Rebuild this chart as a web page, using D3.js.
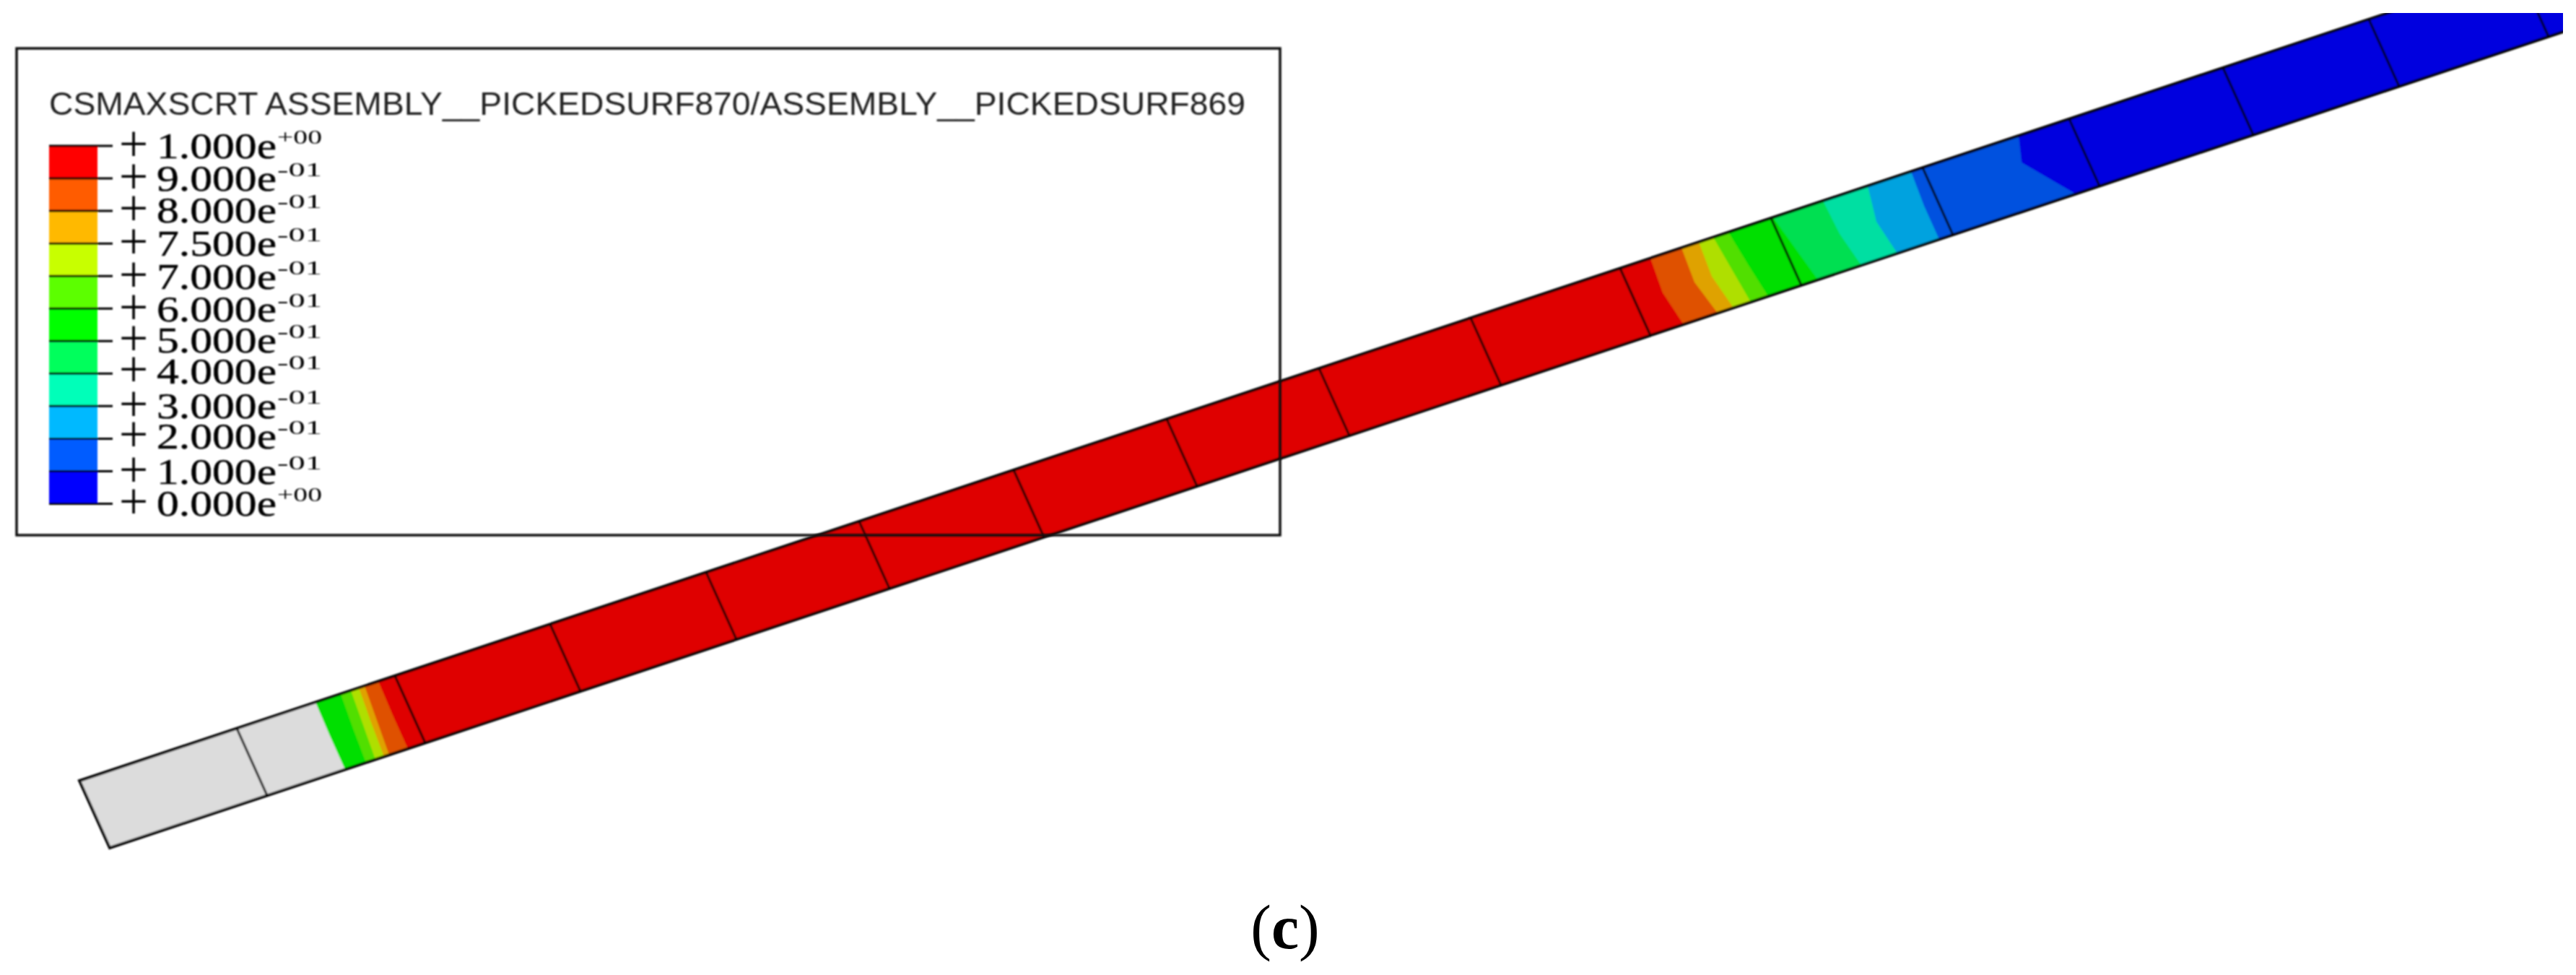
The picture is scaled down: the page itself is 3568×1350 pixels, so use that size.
<!DOCTYPE html>
<html>
<head>
<meta charset="utf-8">
<script src="https://cdn.jsdelivr.net/npm/d3@7"></script>
<style>
  html, body { margin: 0; padding: 0; background: #fff; }
  svg { display: block; }
</style>
</head>
<body>
<svg id="chart" width="3568" height="1350"></svg>
<script>
const TITLE = "CSMAXSCRT ASSEMBLY__PICKEDSURF870/ASSEMBLY__PICKEDSURF869";
const CAPTION = "c";

// legend, top to bottom
const legendMantissa = ["1.000", "9.000", "8.000", "7.500", "7.000", "6.000", "5.000", "4.000", "3.000", "2.000", "1.000", "0.000"];
const legendExponent = ["+00", "-01", "-01", "-01", "-01", "-01", "-01", "-01", "-01", "-01", "-01", "+00"];
const legendLevels = [1, 0.9, 0.8, 0.75, 0.7, 0.6, 0.5, 0.4, 0.3, 0.2, 0.1, 0];
const legendColors = ["#ff0000", "#ff5c00", "#ffb900", "#c8ff00", "#5cff00", "#00ff00", "#00ff5c", "#00ffb9", "#00b9ff", "#005cff", "#0000ff"];
// the labels in the original are not evenly spaced
const labelNudge = [0.5, 0, -0.2, 0.2, 1.1, 1, -0.6, -3.2, -0.3, -2.8, 1.5, -0.5];

// mesh lines along the strip, as x on its upper edge
const meshStations = [328, 547, 762, 978, 1190, 1404, 1616, 1827, 2037, 2244, 2453, 2663, 2866, 3079, 3281, 3488];
const stripStart = 110;
const stripEnd = 3720;

// contour boundaries: station on the upper edge, bend and lower edge
const contourValues = [0.55, 0.65, 0.725, 0.775, 0.85, 0.95, 0.85, 0.775, 0.725, 0.65, 0.55, 0.45, 0.35, 0.25, 0.15, 0.05];
const contourTop = [437, 472, 486, 497, 505, 524, 2286, 2329, 2353, 2373, 2394, 2456, 2525, 2587, 2647, 2796];
const contourBend = [436, 468, 482, 493, 501, 523, 2282, 2326, 2350, 2378, 2400, 2466, 2527, 2578, 2644, 2785];
const contourBottom = [436, 465, 478, 490, 497, 523, 2290, 2337, 2359, 2383, 2407, 2476, 2536, 2586, 2644, 2833];
const contourBendAt = [0.5, 0.5, 0.5, 0.5, 0.5, 0.5, 0.5, 0.5, 0.5, 0.5, 0.5, 0.5, 0.5, 0.5, 0.5, 0.36];

const svg = d3.select("#chart");
const FONT_SERIF = "'Liberation Serif', serif";
const FONT_SANS = "'Liberation Sans', sans-serif";

const defs = svg.append("defs");
defs.append("filter").attr("id", "soft")
    .attr("filterUnits", "userSpaceOnUse")
    .attr("x", 0).attr("y", 0).attr("width", 3568).attr("height", 1350)
    .append("feGaussianBlur").attr("stdDeviation", 0.8);
defs.append("clipPath").attr("id", "frame")
    .append("rect").attr("x", 0).attr("y", 18).attr("width", 3550).attr("height", 1332);

// upper edge of the strip, the cross direction is a fixed skewed vector
const upperEdge = d3.scaleLinear().domain([110, 3307]).range([1081, 18]);
const crossX = d3.scaleLinear().domain([0, 1]).range([0, 42]);
const crossY = d3.scaleLinear().domain([0, 1]).range([0, 93]);
const stripLine = d3.line()
    .x(d => d.u + crossX(d.t))
    .y(d => upperEdge(d.u) + crossY(d.t));

// the strip is shaded a bit darker than the legend colours
const bandColor = d3.scaleThreshold()
    .domain([0.1, 0.2, 0.3, 0.4, 0.5, 0.6, 0.7, 0.75, 0.8, 0.9])
    .range(legendColors.slice().reverse().map(c => {
        const rgb = d3.rgb(c);
        return d3.rgb(rgb.r * 0.875, rgb.g * 0.875, rgb.b * 0.875).formatHex();
    }));

const strip = svg.append("g").attr("clip-path", "url(#frame)")
    .append("g").attr("filter", "url(#soft)");

const outline = [
    { u: stripStart, t: 0 }, { u: stripEnd, t: 0 },
    { u: stripEnd, t: 1 }, { u: stripStart, t: 1 }
];

strip.append("path")
    .attr("d", stripLine(outline) + "Z")
    .attr("fill", "#dcdcdc");

// painted left to right, each band runs on to the end and the next covers it
strip.selectAll(".band")
    .data(contourValues)
    .enter().append("path")
    .attr("class", "band")
    .attr("fill", d => bandColor(d))
    .attr("d", (d, i) => stripLine([
        { u: contourTop[i], t: 0 },
        { u: contourBend[i], t: contourBendAt[i] },
        { u: contourBottom[i], t: 1 },
        { u: stripEnd, t: 1 },
        { u: stripEnd, t: 0 }
    ]) + "Z");

strip.selectAll(".mesh")
    .data(meshStations)
    .enter().append("path")
    .attr("class", "mesh")
    .attr("d", d => stripLine([{ u: d, t: 0 }, { u: d, t: 1 }]))
    .attr("fill", "none")
    .attr("stroke", "#000")
    .attr("stroke-opacity", 0.72)
    .attr("stroke-width", 3.5);

strip.append("path")
    .attr("d", stripLine(outline) + "Z")
    .attr("fill", "none")
    .attr("stroke", "#000")
    .attr("stroke-opacity", 0.95)
    .attr("stroke-width", 4);

// legend box sits on top of the strip
const legend = svg.append("g").attr("filter", "url(#soft)");

legend.append("rect")
    .attr("x", 23).attr("y", 67)
    .attr("width", 1750).attr("height", 674)
    .attr("fill", "none")
    .attr("stroke", "#111")
    .attr("stroke-width", 3.5);

legend.append("text")
    .attr("x", 68).attr("y", 159)
    .attr("textLength", 1657)
    .attr("lengthAdjust", "spacingAndGlyphs")
    .style("font-family", FONT_SANS)
    .style("font-size", "44px")
    .attr("fill", "#222")
    .text(TITLE);

const legendY = d3.scalePoint().domain(d3.range(legendLevels.length)).range([201.5, 697]);

legend.selectAll(".swatch")
    .data(legendColors)
    .enter().append("rect")
    .attr("class", "swatch")
    .attr("x", 68)
    .attr("y", (d, i) => legendY(i))
    .attr("width", 67)
    .attr("height", (d, i) => legendY(i + 1) - legendY(i))
    .attr("fill", d => d);

const legendAxis = legend.append("g")
    .attr("transform", "translate(68,0)")
    .call(d3.axisRight(legendY).tickSize(88).tickPadding(0).tickFormat(""));
legendAxis.select(".domain").remove();
legendAxis.selectAll("line").attr("stroke", "#000").attr("stroke-width", 3);

const labels = legend.selectAll(".level")
    .data(legendLevels)
    .enter().append("g")
    .attr("class", "level")
    .attr("transform", (d, i) => `translate(0,${legendY(i) + 17 + labelNudge[i]})`)
    .style("font-family", FONT_SERIF)
    .attr("fill", "#000");

labels.append("text")
    .attr("x", 185).attr("y", 4)
    .attr("text-anchor", "middle")
    .style("font-size", "72px")
    .text("+");

labels.append("text")
    .attr("x", 217).attr("y", 0)
    .attr("textLength", 166)
    .attr("lengthAdjust", "spacingAndGlyphs")
    .style("font-size", "50px")
    .attr("stroke", "#000")
    .attr("stroke-width", 0.5)
    .text((d, i) => legendMantissa[i] + "e");

labels.append("text")
    .attr("x", 384).attr("y", -20)
    .attr("textLength", 62)
    .attr("lengthAdjust", "spacingAndGlyphs")
    .style("font-size", "28px")
    .text((d, i) => legendExponent[i]);

const caption = svg.append("text")
    .attr("x", 1780).attr("y", 1313)
    .attr("text-anchor", "middle")
    .style("font-family", FONT_SERIF)
    .style("font-size", "86px")
    .attr("fill", "#000");
caption.append("tspan").text("(");
caption.append("tspan").style("font-weight", "bold").text(CAPTION);
caption.append("tspan").text(")");
</script>
</body>
</html>
